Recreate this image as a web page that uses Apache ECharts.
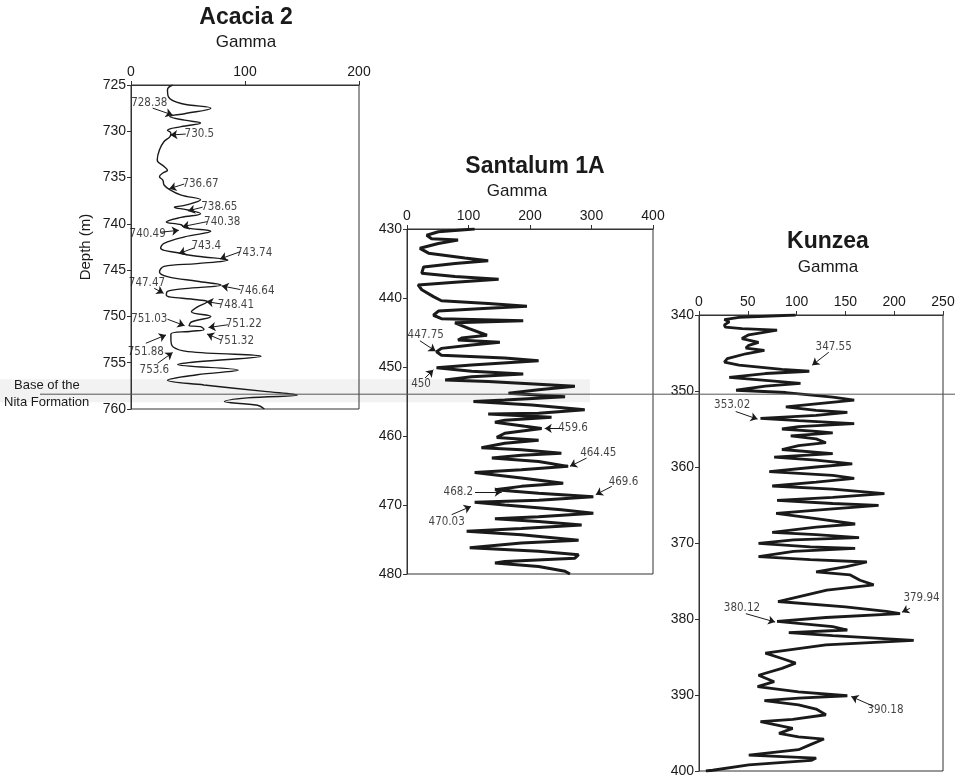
<!DOCTYPE html>
<html>
<head>
<meta charset="utf-8">
<script src="https://cdn.jsdelivr.net/npm/echarts@6/dist/echarts.min.js"></script>
<style>
  html, body { margin: 0; padding: 0; background: #fff; }
  #chart { width: 964px; height: 780px; }
</style>
</head>
<body>
<div id="chart"></div>
<script>
// gamma logs (depth in m, gamma in API)
const acaciaDepth = [725.0, 725.5, 726.3, 727.0, 727.5, 728.1, 728.4, 728.8, 729.1, 729.5, 729.9, 730.2, 730.6, 731.1, 732.0, 733.1, 733.8, 734.2, 734.5, 734.9, 735.3, 735.8, 736.3, 736.9, 737.4, 738.0, 738.2, 738.5, 738.9, 739.3, 739.8, 740.1, 740.4, 740.8, 741.4, 742.1, 742.6, 743.2, 743.5, 743.9, 744.3, 744.6, 745.2, 745.7, 746.2, 746.6, 747.0, 747.3, 747.7, 748.2, 748.4, 749.0, 749.5, 750.0, 750.6, 751.0, 751.1, 751.4, 751.6, 751.9, 752.5, 753.3, 753.8, 754.3, 754.9, 755.2, 755.8, 756.3, 756.9, 757.4, 758.1, 758.5, 758.8, 759.2, 759.6, 760.0];
const acaciaGamma = [36.5, 32, 33, 44, 70, 47, 34, 47, 61, 44, 32, 35, 34, 29, 25, 23, 29, 32, 28, 25, 28, 29, 34, 44, 61, 47, 38, 50, 61, 44, 31, 44, 47, 70, 47, 29, 26, 44, 58, 85, 58, 29, 25, 32, 58, 79, 47, 32, 31, 58, 67, 58, 53, 70, 53, 51, 61, 64, 53, 35, 35, 37, 50, 114, 58, 41, 94, 58, 32, 64, 117, 146, 102, 82, 111, 117];

const santalumDepth = [430.0, 430.4, 430.9, 431.4, 431.6, 432.1, 432.8, 433.5, 434.2, 434.6, 435.0, 435.5, 436.4, 436.9, 437.3, 437.7, 438.1, 438.8, 439.8, 440.4, 440.8, 441.2, 441.5, 441.9, 442.5, 443.0, 443.3, 443.6, 444.4, 445.4, 445.8, 446.1, 446.4, 446.8, 447.3, 447.8, 448.3, 448.7, 449.1, 449.7, 450.1, 450.6, 451.0, 451.4, 451.9, 452.1, 452.8, 453.3, 453.8, 454.3, 454.8, 455.0, 455.5, 456.2, 456.7, 456.8, 457.3, 457.7, 458.0, 458.6, 458.9, 459.6, 460.2, 460.6, 461.05, 461.7, 462.0, 462.5, 462.8, 463.2, 463.7, 464.4, 464.9, 465.3, 466.1, 466.85, 467.3, 467.8, 468.3, 468.8, 469.3, 469.6, 470.0, 470.7, 471.2, 471.7, 472.0, 472.4, 472.9, 473.4, 473.8, 474.3, 475.1, 475.5, 476.2, 476.7, 477.2, 477.7, 478.2, 478.4, 478.9, 479.6, 480.0];
const santalumGamma = [110, 51, 32, 40, 83, 51, 21, 35, 94, 132, 78, 27, 24, 78, 149, 78, 18, 24, 43, 56, 132, 195, 132, 51, 43, 56, 189, 78, 100, 130, 89, 83, 151, 105, 56, 48, 56, 159, 214, 105, 48, 105, 189, 105, 62, 132, 273, 214, 165, 257, 159, 108, 203, 289, 214, 132, 235, 159, 143, 192, 219, 159, 146, 214, 159, 121, 186, 251, 186, 138, 214, 262, 186, 110, 186, 254, 186, 143, 214, 303, 214, 110, 159, 251, 303, 214, 143, 214, 284, 186, 97, 186, 279, 186, 102, 214, 279, 273, 159, 143, 214, 257, 265];

const kunzeaDepth = [340.0, 340.3, 340.6, 340.9, 341.3, 341.6, 341.8, 342.0, 342.6, 343.1, 343.6, 344.0, 344.35, 344.65, 345.1, 345.75, 346.2, 346.6, 347.15, 347.4, 347.7, 348.2, 348.6, 349.0, 349.35, 349.9, 350.2, 350.8, 351.2, 351.7, 352.1, 352.55, 352.8, 353.2, 353.6, 353.9, 354.3, 354.7, 355.0, 355.3, 355.5, 355.9, 356.3, 356.8, 357.2, 357.7, 358.25, 358.7, 359.1, 359.6, 360.0, 360.6, 361.1, 361.5, 362.0, 362.5, 362.9, 363.5, 364.0, 364.4, 364.8, 365.05, 365.5, 366.1, 366.8, 367.5, 367.9, 368.6, 368.9, 369.3, 369.6, 370.05, 370.5, 370.7, 371.1, 371.8, 372.2, 372.5, 373.1, 373.8, 374.2, 374.9, 375.5, 376.2, 377.7, 378.4, 379.0, 379.3, 379.8, 380.3, 381.0, 381.45, 381.8, 382.2, 382.8, 383.4, 384.5, 385.2, 385.8, 386.5, 387.4, 388.25, 388.9, 389.6, 390.1, 390.4, 390.75, 391.3, 391.85, 392.6, 393.2, 393.5, 394.4, 395.05, 395.5, 395.8, 396.6, 397.2, 397.9, 398.3, 398.6, 399.2, 399.9, 400.0];
const kunzeaGamma = [99, 41, 26, 31, 26, 27, 44, 80, 51, 44, 61, 51, 48, 67, 48, 29, 26, 41, 85, 113, 68, 31, 68, 104, 68, 38, 89, 137, 159, 120, 89, 120, 152, 120, 63, 102, 159, 102, 85, 120, 137, 94, 120, 130, 102, 85, 137, 77, 120, 157, 120, 72, 137, 159, 120, 75, 137, 190, 137, 80, 137, 184, 137, 79, 120, 160, 120, 75, 120, 164, 97, 61, 114, 160, 97, 61, 114, 172, 151, 120, 155, 165, 179, 131, 81, 150, 192, 206, 130, 80, 137, 152, 92, 137, 220, 130, 68, 85, 99, 85, 61, 77, 60, 102, 152, 102, 67, 102, 120, 130, 96, 63, 96, 82, 102, 128, 113, 102, 51, 120, 115, 51, 14, 7];

// picked depths: [label, text gamma, text depth, tail gamma, tail depth, head gamma, head depth]
const acaciaNotes = [
  ['728.38', 16, 726.9, 19, 727.5, 36.5, 728.24],
  ['730.5', 60, 730.3, 48, 730.3, 34.5, 730.4],
  ['736.67', 61, 735.7, 46.7, 735.7, 33.6, 736.2],
  ['738.65', 77.5, 738.2, 62.8, 738.2, 50, 738.6],
  ['740.38', 80, 739.8, 67, 739.76, 45, 740.3],
  ['740.49', 14.6, 741.1, 26, 740.9, 42, 740.7],
  ['743.4', 66, 742.4, 55.5, 742.6, 42, 743.2],
  ['743.74', 108, 743.1, 96, 743.0, 78, 743.8],
  ['747.47', 14, 746.4, 20.4, 746.96, 28.6, 747.5],
  ['746.64', 110, 747.3, 96, 747.1, 79.5, 746.7],
  ['748.41', 92, 748.8, 79, 748.65, 66, 748.4],
  ['751.03', 16, 750.3, 32, 750.3, 47, 751.0],
  ['751.22', 99, 750.8, 85, 750.9, 68, 751.2],
  ['751.32', 92, 752.7, 79, 752.54, 66.7, 751.9],
  ['751.88', 13, 753.8, 13, 752.9, 30.7, 752.0],
  ['753.6', 20.5, 755.8, 23.4, 755.06, 36.5, 753.9]
];
const santalumNotes = [
  ['447.75', 30.4, 445.3, 21, 446.2, 46.6, 447.7],
  ['450', 22.8, 452.5, 29.3, 451.6, 42.8, 450.4],
  ['459.6', 270, 458.9, 251.5, 458.9, 224, 458.9],
  ['464.45', 311, 462.4, 292, 463.2, 265, 464.4],
  ['469.6', 352, 466.7, 333, 467.3, 307, 468.5],
  ['468.2', 83.5, 468.1, 110.6, 468.15, 154, 468.1],
  ['470.03', 64.5, 472.5, 72.6, 471.4, 104, 470.2]
];
const kunzeaNotes = [
  ['347.55', 138, 344.2, 133, 344.9, 116, 346.6],
  ['353.02', 34, 351.9, 37.6, 352.7, 60, 353.7],
  ['379.94', 228, 377.3, 216, 378.6, 208, 379.1],
  ['380.12', 44, 378.5, 48, 379.3, 78, 380.4],
  ['390.18', 191, 392.0, 179, 391.5, 156, 390.2]
];

const wellNames = ['Acacia 2', 'Santalum 1A', 'Kunzea'];
const gammaMax = [200, 400, 250];
const gammaStep = [100, 100, 50];
const depthMin = [725, 430, 340];
const depthMax = [760, 480, 400];
const depthStep = [5, 10, 10];
const nitaBaseDepth = 758.4; // Acacia 2

const FONT = "'Liberation Sans', Arial, sans-serif";
const NARROW = "'Liberation Sans Narrow', 'DejaVu Sans Condensed', sans-serif";
const INK = '#1a1a1a';

const grids = [
  { left: 131, top: 85, width: 228, height: 324 },
  { left: 407, top: 229, width: 246, height: 345 },
  { left: 699, top: 315, width: 244, height: 456 }
];
const titlePos = [
  { x: 246, y: 6, gx: 246, gy: 34 },
  { x: 535, y: 155, gx: 517, gy: 183 },
  { x: 828, y: 230, gx: 828, gy: 259 }
];

const curves = [
  acaciaDepth.map((d, i) => [acaciaGamma[i], d]),
  santalumDepth.map((d, i) => [santalumGamma[i], d]),
  kunzeaDepth.map((d, i) => [kunzeaGamma[i], d])
];
const notes = [acaciaNotes, santalumNotes, kunzeaNotes];
const widths = [1.4, 3, 2.8];

const titles = [];
wellNames.forEach((name, i) => {
  titles.push({
    text: name, left: titlePos[i].x, top: titlePos[i].y, textAlign: 'center', padding: 0,
    textStyle: { fontFamily: FONT, fontSize: 23, fontWeight: 'bold', color: INK }
  });
  titles.push({
    text: 'Gamma', left: titlePos[i].gx, top: titlePos[i].gy, textAlign: 'center', padding: 0,
    textStyle: { fontFamily: FONT, fontSize: 17, fontWeight: 'normal', color: INK }
  });
});

const series = [];
curves.forEach((data, i) => {
  series.push({
    type: 'line', xAxisIndex: i, yAxisIndex: i,
    data: data, symbol: 'none', smooth: i === 0 ? 0.4 : false,
    lineStyle: { color: INK, width: widths[i] },
    z: 3,
    markLine: {
      silent: true,
      symbol: ['none', 'arrow'],
      symbolSize: 7,
      lineStyle: { color: INK, width: 1, type: 'solid' },
      label: { show: false },
      data: notes[i].map(n => [{ coord: [n[3], n[4]] }, { coord: [n[5], n[6]] }])
    }
  });
  series.push({
    type: 'scatter', xAxisIndex: i, yAxisIndex: i, silent: true,
    symbolSize: 1, itemStyle: { color: 'rgba(0,0,0,0)' },
    data: notes[i].map(n => ({ value: [n[1], n[2]], name: n[0] })),
    label: {
      show: true, position: 'inside', formatter: '{b}',
      color: '#111', fontSize: 11.5, fontFamily: NARROW
    },
    z: 4
  });
});

const chart = echarts.init(document.getElementById('chart'), null, { renderer: 'canvas' });
chart.setOption({
  animation: false,
  backgroundColor: '#fff',
  title: titles,
  grid: grids.map(g => Object.assign({ show: true, borderColor: '#333', borderWidth: 1 }, g)),
  xAxis: grids.map((g, i) => ({
    type: 'value', gridIndex: i, position: 'top',
    min: 0, max: gammaMax[i], interval: gammaStep[i],
    axisLine: { show: true, lineStyle: { color: '#333' } },
    axisTick: { show: true, length: 4, lineStyle: { color: '#333' } },
    axisLabel: { color: INK, fontSize: 14, fontFamily: FONT, margin: 6 },
    splitLine: { show: false }
  })),
  yAxis: grids.map((g, i) => ({
    type: 'value', gridIndex: i, inverse: true,
    min: depthMin[i], max: depthMax[i], interval: depthStep[i],
    name: i === 0 ? 'Depth (m)' : '',
    nameLocation: 'middle', nameRotate: 90, nameGap: 38,
    nameTextStyle: { color: INK, fontSize: 15, fontFamily: FONT },
    axisLine: { show: true, lineStyle: { color: '#333' } },
    axisTick: { show: true, length: 4, lineStyle: { color: '#333' } },
    axisLabel: { color: INK, fontSize: 14, fontFamily: FONT, margin: 5 },
    splitLine: { show: false }
  })),
  series: series
});

// formation boundary runs across all three logs
const nitaY = chart.convertToPixel({ gridIndex: 0 }, [0, nitaBaseDepth])[1];
chart.setOption({
  graphic: [
    { type: 'rect', z: -10, silent: true, shape: { x: 0, y: nitaY - 15, width: 590, height: 23 }, style: { fill: '#f2f2f2' } },
    { type: 'line', z: 100, silent: true, shape: { x1: 40, y1: nitaY, x2: 955, y2: nitaY }, style: { stroke: '#555', lineWidth: 1 } },
    { type: 'text', z: 100, left: 14, top: nitaY - 15, style: { text: 'Base of the', font: '13px ' + FONT, fill: INK } },
    { type: 'text', z: 100, left: 4, top: nitaY + 2, style: { text: 'Nita Formation', font: '13px ' + FONT, fill: INK } }
  ]
});
</script>
</body>
</html>
